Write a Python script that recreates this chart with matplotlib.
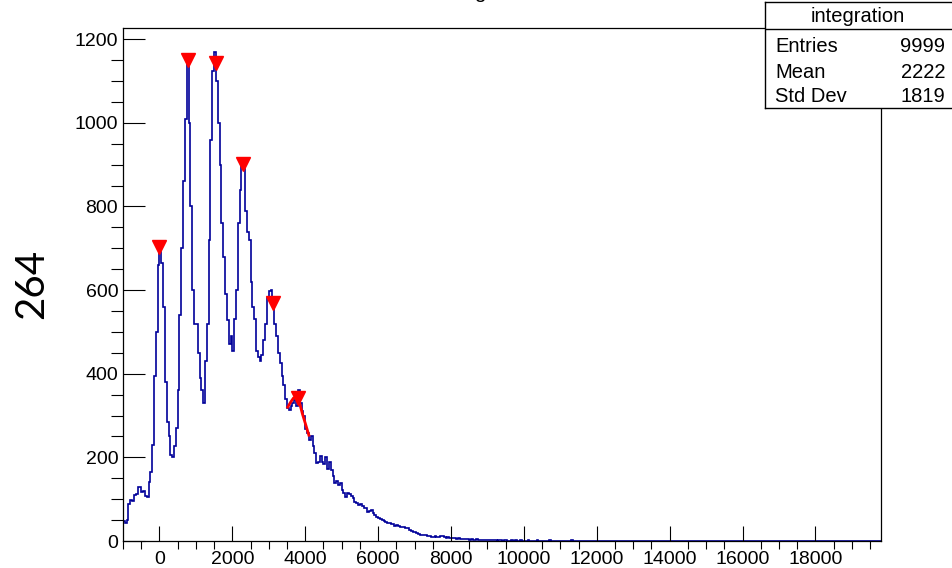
import numpy as np
import matplotlib.pyplot as plt
from matplotlib.ticker import MultipleLocator

plt.rcParams["font.family"] = ["Liberation Sans", "DejaVu Sans"]

# ---------------------------------------------------
# Data
# ---------------------------------------------------

BIN_WIDTH = 50
X_MIN, X_MAX = -1000, 19800

# bin contents, one row per 1000 units starting at -1000
counts_rows = [
    [48, 44, 50, 88, 98, 96, 110, 112, 130, 128, 118, 120, 108, 106, 140, 165, 230, 395, 500, 660],
    [690, 665, 560, 380, 285, 250, 205, 200, 228, 270, 360, 540, 700, 860, 1010, 1148, 1000, 800, 600, 520],
    [520, 450, 390, 360, 330, 430, 520, 720, 960, 1125, 1170, 1100, 1000, 900, 760, 680, 590, 528, 470, 490],
    [455, 530, 600, 760, 840, 900, 890, 790, 740, 720, 620, 560, 530, 455, 440, 430, 445, 480, 520, 580],
    [598, 600, 570, 520, 490, 450, 425, 395, 372, 340, 318, 313, 322, 330, 337, 322, 362, 330, 310, 300],
    [268, 258, 242, 250, 226, 210, 186, 190, 203, 190, 184, 200, 172, 188, 170, 155, 138, 143, 134, 138],
    [122, 114, 106, 114, 112, 108, 104, 94, 90, 86, 88, 84, 78, 80, 70, 72, 74, 66, 62, 58],
    [54, 52, 50, 47, 46, 43, 42, 41, 40, 37, 38, 35, 34, 33, 34, 30, 30, 26, 25, 22],
    [21, 19, 17, 15, 14, 15, 14, 12, 12, 10, 10, 11, 10, 9, 12, 11, 9, 8, 9, 7],
    [7, 8, 6, 5, 6, 5, 4, 5, 5, 4, 3, 4, 3, 3, 4, 2, 3, 3, 2, 3],
    [2, 3, 2, 2, 3, 1, 2, 2, 1, 2, 3, 1, 1, 2, 1, 2, 1, 1, 2, 1],
    [1, 1, 2, 1, 0, 1, 1, 2, 1, 1, 0, 1, 1, 1, 2, 1, 0, 1, 1, 0],
    [1, 1, 0, 1, 1, 0, 2, 1, 0, 1, 1, 1, 0, 1, 0, 1, 1, 0, 1, 1],
    [0, 1, 1, 0, 1, 0, 1, 1, 0, 0, 1, 0, 1, 1, 0, 1, 0, 0, 1, 0],
    [1, 0, 0, 1, 0, 1, 0, 0, 1, 0, 1, 0, 0, 1, 1, 0, 0, 1, 0, 0],
    [1, 0, 1, 0, 0, 1, 0, 0, 1, 0, 0, 1, 0, 1, 0, 0, 1, 0, 0, 1],
    [0, 0, 1, 0, 1, 0, 0, 1, 0, 0, 0, 1, 0, 0, 1, 0, 0, 1, 0, 0],
    [1, 0, 0, 1, 0, 0, 1, 0, 1, 0, 0, 0, 1, 0, 0, 1, 0, 0, 0, 1],
    [0, 0, 1, 0, 0, 1, 0, 0, 0, 1, 0, 0, 1, 0, 0, 0, 1, 0, 0, 0],
    [1, 0, 0, 0, 1, 0, 0, 1, 0, 0, 0, 1, 0, 0, 0, 0, 1, 0, 0, 1],
    [0, 0, 0, 1, 0, 0, 0, 1, 0, 0, 0, 0, 1, 0, 0, 0],
]

# peaks found (red triangles)
peak_x = [0, 771, 1552, 2295, 3120, 3800]
peak_y = [703, 1150, 1144, 901, 568, 343]

# fitted function around the last peak
fit_x = [3520, 3600, 3680, 3760, 3840, 3920, 4000, 4100]
fit_y = [320, 332, 342, 345, 332, 305, 282, 253]

stats_title = "integration"
stats_labels = ["Entries", "Mean", "Std Dev"]
stats_values = ["9999", "2222", "1819"]

side_label = "264"

counts = np.concatenate([np.array(r, dtype=float) for r in counts_rows])
edges = np.arange(X_MIN, X_MAX + 1, BIN_WIDTH)

# ---------------------------------------------------
# Plot
# ---------------------------------------------------

W, H = 952, 568
fig = plt.figure(figsize=(W / 100, H / 100), dpi=100)
ax = fig.add_axes([123 / W, (H - 541) / H, (881 - 123) / W, (541 - 28.3) / H])

ax.stairs(counts, edges, color="#000099", linewidth=1.2, baseline=None)
ax.plot(fit_x, fit_y, color="red", linewidth=2)
ax.plot(peak_x, peak_y, linestyle="none", marker="v", markersize=10,
        color="red", markeredgecolor="red")

ax.set_xlim(X_MIN, X_MAX)
ax.set_ylim(0, 1226)

ax.xaxis.set_major_locator(MultipleLocator(2000))
ax.xaxis.set_minor_locator(MultipleLocator(500))
ax.yaxis.set_major_locator(MultipleLocator(200))
ax.yaxis.set_minor_locator(MultipleLocator(50))

ax.tick_params(direction="in", top=False, right=False, colors="black",
               labelsize=14)
ax.tick_params(axis="y", which="major", length=15.8, width=0.8, pad=3.5)
ax.tick_params(axis="y", which="minor", length=8.4, width=0.8)
ax.tick_params(axis="x", which="major", length=10.8, width=0.8, pad=7)
ax.tick_params(axis="x", which="minor", length=5.5, width=0.8)
for s in ax.spines.values():
    s.set_linewidth(0.9)
    s.set_color("black")

# title, almost entirely above the top edge as in the original
fig.text(0.515, 1.004, stats_title, ha="center", va="baseline", fontsize=15)

# big label on the left
fig.text(32 / W, (H - 284) / H, side_label, rotation=90, ha="center",
         va="center", fontsize=29, family=["Lato", "DejaVu Sans"])

# ---------------------------------------------------
# Stats box
# ---------------------------------------------------

sb = fig.add_axes([765 / W, (H - 108) / H, (956 - 765) / W, (108 - 2) / H])
sb.set_xlim(765, 956)
sb.set_ylim(108, 2)
sb.set_xticks([])
sb.set_yticks([])
sb.set_facecolor("white")
for s in sb.spines.values():
    s.set_linewidth(1.0)
    s.set_color("black")
sb.axhline(28.5, color="black", linewidth=1.0)
sb.text(858, 16, stats_title, ha="center", va="center", fontsize=14.5)
for i, (lab, val) in enumerate(zip(stats_labels, stats_values)):
    y = 47 + 25 * i
    sb.text(775, y, lab, ha="left", va="center", fontsize=14.5)
    sb.text(945, y, val, ha="right", va="center", fontsize=14.5)

fig.savefig("out.png", dpi=100)
